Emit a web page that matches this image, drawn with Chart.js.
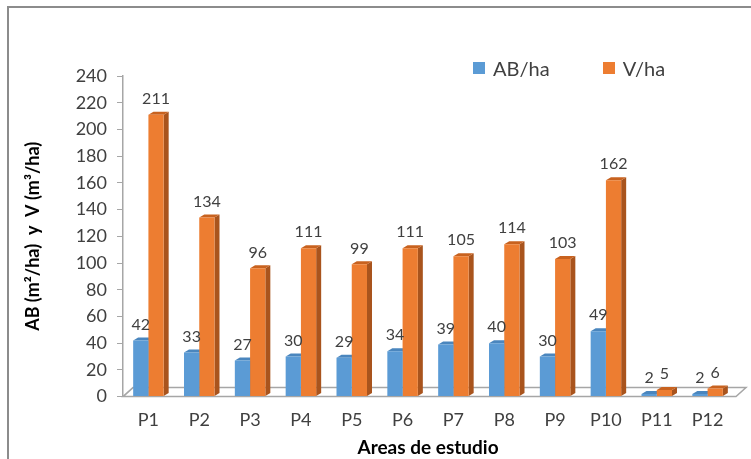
<!DOCTYPE html>
<html>
<head>
<meta charset="utf-8">
<script src="https://cdn.jsdelivr.net/npm/chart.js@4.4.1/dist/chart.umd.min.js"></script>
<style>
  body { margin: 0; background: #fff; }
  #wrap { position: relative; width: 751px; height: 459px; overflow: hidden; }
  #marco { position: absolute; left: 7px; top: 6px; width: 800px; height: 500px;
           border-left: 2px solid #8c8c8c; border-top: 2px solid #8c8c8c; }
  #leyenda { position: absolute; top: 54px; left: 473px; font: 20px Lato, sans-serif; color: #404040; }
  #leyenda span { display: inline-flex; align-items: center; margin-right: 48px; }
  #leyenda i { display: inline-block; width: 12px; height: 12px; margin-right: 8px; }
</style>
</head>
<body>
<div id="wrap">
  <div id="marco"></div>
  <canvas id="grafico" width="751" height="459"></canvas>
  <div id="leyenda">
    <span><i style="background:#5B9BD5"></i>AB/ha</span>
    <span><i style="background:#ED7D31"></i>V/ha</span>
  </div>
</div>
<script>
// Datos
const areas = ['P1', 'P2', 'P3', 'P4', 'P5', 'P6', 'P7', 'P8', 'P9', 'P10', 'P11', 'P12'];
const abHa = [42, 33, 27, 30, 29, 34, 39, 40, 30, 49, 2, 2];
const vHa = [211, 134, 96, 111, 99, 111, 105, 114, 103, 162, 5, 6];
const ejeY = [0, 20, 40, 60, 80, 100, 120, 140, 160, 180, 200, 220, 240];

const texto = '#404040';
// colores de cara lateral y superior para el efecto 3D
const caras = [
    { lado: '#41719C', tope: '#4A86BE' },
    { lado: '#A9541D', tope: '#C8621F' }
];
const prof = { dx: 5, dy: 3 };

// Piso gris debajo de las barras
const pisoPlugin = {
    id: 'piso',
    beforeDatasetsDraw(chart) {
        const a = chart.chartArea, ctx = chart.ctx;
        ctx.save();
        ctx.beginPath();
        ctx.moveTo(a.left, a.bottom);
        ctx.lineTo(a.right + 3, a.bottom);
        ctx.lineTo(a.right + 13, a.bottom - 9);
        ctx.lineTo(a.left + 10, a.bottom - 9);
        ctx.closePath();
        ctx.fillStyle = '#fff';
        ctx.fill();
        ctx.strokeStyle = '#a6a6a6';
        ctx.lineWidth = 1.5;
        ctx.stroke();
        ctx.restore();
    }
};

// Caras laterales y superiores de cada barra (se dibujan antes, la cara frontal tapa lo que sobra)
const barras3d = {
    id: 'barras3d',
    beforeDatasetsDraw(chart) {
        const ctx = chart.ctx;
        chart.data.datasets.forEach((ds, i) => {
            const c = caras[i];
            chart.getDatasetMeta(i).data.forEach(b => {
                const p = b.getProps(['x', 'y', 'base', 'width'], true);
                const r = p.x + p.width / 2, l = p.x - p.width / 2;
                ctx.save();
                ctx.fillStyle = c.lado;
                ctx.beginPath();
                ctx.moveTo(r, p.y);
                ctx.lineTo(r + prof.dx, p.y - prof.dy);
                ctx.lineTo(r + prof.dx, p.base - prof.dy);
                ctx.lineTo(r, p.base);
                ctx.closePath();
                ctx.fill();
                ctx.fillStyle = c.tope;
                ctx.beginPath();
                ctx.moveTo(l, p.y);
                ctx.lineTo(l + prof.dx, p.y - prof.dy);
                ctx.lineTo(r + prof.dx, p.y - prof.dy);
                ctx.lineTo(r, p.y);
                ctx.closePath();
                ctx.fill();
                ctx.restore();
            });
        });
    }
};

// Etiquetas de valor encima de las barras
const etiquetas = {
    id: 'etiquetas',
    afterDatasetsDraw(chart) {
        const ctx = chart.ctx;
        ctx.save();
        ctx.font = '16px Lato, sans-serif';
        ctx.fillStyle = texto;
        ctx.textAlign = 'center';
        ctx.textBaseline = 'middle';
        chart.data.datasets.forEach((ds, i) => {
            chart.getDatasetMeta(i).data.forEach((b, j) => {
                ctx.fillText(ds.data[j], b.x, b.y - 16);
            });
        });
        ctx.restore();
    }
};

new Chart(document.getElementById('grafico'), {
    type: 'bar',
    data: {
        labels: areas,
        datasets: [
            { label: 'AB/ha', data: abHa, backgroundColor: '#5B9BD5' },
            { label: 'V/ha', data: vHa, backgroundColor: '#ED7D31' }
        ]
    },
    options: {
        responsive: false,
        animation: false,
        layout: { padding: { left: 18, right: 18, top: 76, bottom: 0 } },
        datasets: { bar: { categoryPercentage: 0.6, barPercentage: 1.0 } },
        plugins: {
            legend: { display: false },
            tooltip: { enabled: false }
        },
        scales: {
            x: {
                grid: { display: false },
                border: { display: false },
                ticks: { color: texto, font: { family: 'Lato', size: 18 }, padding: 5 },
                title: {
                    display: true, text: 'Areas de estudio', color: '#000',
                    font: { family: 'Lato', size: 19, weight: 'bold' }, padding: { top: 0, bottom: 0 }
                }
            },
            y: {
                min: 0, max: 240,
                afterBuildTicks: s => { s.ticks = ejeY.map(v => ({ value: v })); },
                afterFit: s => { s.width = 105; },
                grid: { drawOnChartArea: false, tickLength: 6, color: '#a6a6a6' },
                border: { display: true, color: '#a6a6a6', width: 1.5 },
                ticks: { color: texto, font: { family: 'Lato', size: 18 }, padding: 10 },
                title: {
                    display: true, text: 'AB (m²/ha)  y  V (m³/ha)', color: '#000',
                    font: { family: 'Lato', size: 18, weight: 'bold' }
                }
            }
        }
    },
    plugins: [pisoPlugin, barras3d, etiquetas]
});
</script>
</body>
</html>
